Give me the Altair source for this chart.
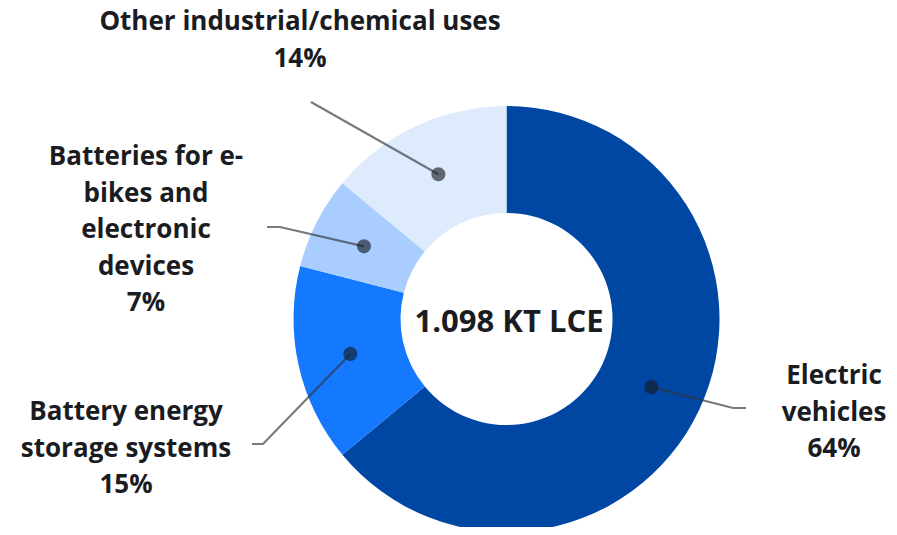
import math
import altair as alt
import pandas as pd

# ---- data ----
categories = ["Electric vehicles", "Battery energy storage systems",
              "Batteries for e-bikes and electronic devices",
              "Other industrial/chemical uses"]
label_lines = [["Electric", "vehicles"],
               ["Battery energy", "storage systems"],
               ["Batteries for e-", "bikes and", "electronic", "devices"],
               ["Other industrial/chemical uses"]]
values = [64, 15, 7, 14]
center_label = "1.098 KT LCE"

# ---- layout / style ----
colors = ["#0047A4", "#1479FF", "#A9CDFE", "#DEEBFD"]
W, H = 881, 519
CX, CY = 498.5, 311
R_OUT, R_IN, R_DOT = 213, 106, 160
FONT = "Open Sans"
TEXT_COLOR = "#1b1c22"
# label anchor (centre x, first baseline y) and leader elbow/end points
label_pos = [(826, 376), (118, 412), (138, 157), (292, 22)]
leader_pts = [[(725, 400), (738, 400)],
              [(255, 436), (244, 436)],
              [(272, 219), (259, 219)],
              [(303, 94)]]

total = sum(values)
rows, dots, lines, labels = [], [], [], []
cum = 0
for i, (c, v) in enumerate(zip(categories, values)):
    rows.append({"category": c, "value": v, "order": i})
    mid = (cum + v / 2) / total * 2 * math.pi
    cum += v
    dx = CX + R_DOT * math.sin(mid)
    dy = CY - R_DOT * math.cos(mid)
    dots.append({"category": c, "x": dx, "y": dy})
    pts = [(dx, dy)] + leader_pts[i]
    for k, (px, py) in enumerate(pts):
        lines.append({"category": c, "k": k, "x": px, "y": py})
    labels.append({"category": c, "x": label_pos[i][0], "y": label_pos[i][1],
                   "text": label_lines[i] + [f"{v}%"]})

df = pd.DataFrame(rows)
dots_df = pd.DataFrame(dots)
lines_df = pd.DataFrame(lines)
labels_df = pd.DataFrame(labels)

xs = alt.Scale(domain=[0, W], range=[0, W])
ys = alt.Scale(domain=[H, 0])

arc = alt.Chart(df).mark_arc(outerRadius=R_OUT, innerRadius=R_IN).encode(
    theta=alt.Theta("value:Q", stack=True),
    order=alt.Order("order:Q"),
    color=alt.Color("category:N", scale=alt.Scale(domain=categories, range=colors), legend=None),
    x=alt.value(CX), y=alt.value(CY),
)

leader = alt.Chart(lines_df).mark_line(color="#2f333c", opacity=0.65, strokeWidth=2.2).encode(
    x=alt.X("x:Q", scale=xs, axis=None),
    y=alt.Y("y:Q", scale=ys, axis=None),
    detail="category:N",
    order="k:Q",
)

dot = alt.Chart(dots_df).mark_circle(size=200, color="#151820", opacity=0.62).encode(
    x=alt.X("x:Q", scale=xs, axis=None),
    y=alt.Y("y:Q", scale=ys, axis=None),
)

lab = alt.Chart(labels_df).mark_text(
    font=FONT, fontSize=26, fontWeight="bold", color=TEXT_COLOR,
    align="center", baseline="alphabetic", lineHeight=36.5,
).encode(
    x=alt.X("x:Q", scale=xs, axis=None),
    y=alt.Y("y:Q", scale=ys, axis=None),
    text="text",
)

ctr = alt.Chart(pd.DataFrame({"t": [center_label]})).mark_text(
    font=FONT, fontSize=31, fontWeight="bold", color=TEXT_COLOR,
    align="center", baseline="alphabetic",
).encode(x=alt.value(CX + 2.5), y=alt.value(324), text="t:N")

chart = alt.layer(arc, leader, dot, lab, ctr).properties(
    width=W, height=H, autosize=alt.AutoSizeParams(type="none"), padding=0,
).configure_view(stroke=None)

chart.save("out.html", embed_options={"renderer": "svg", "actions": False})
